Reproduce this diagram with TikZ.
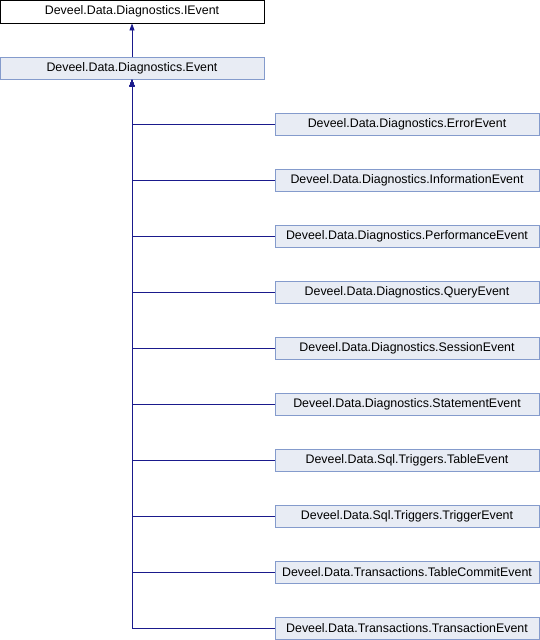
\documentclass[tikz,border=0pt]{standalone}
\usepackage{fontspec}
\setmainfont{Liberation Sans}
\usetikzlibrary{arrows.meta}
\definecolor{boxfill}{RGB}{232,236,244}
\definecolor{boxline}{RGB}{132,155,204}
\definecolor{arrcol}{RGB}{26,26,140}
\begin{document}
\begin{tikzpicture}[x=1pt,y=-1pt,
  cls/.style={draw=boxline,fill=boxfill,line width=0.9pt,minimum width=264pt,minimum height=22pt,inner sep=0pt,font=\fontsize{12.4}{14}\selectfont},
  topcls/.style={cls,draw=black,fill=white,minimum height=23pt},
  inh/.style={draw=arrcol,line width=0.9pt,-{Triangle[length=7pt,width=5pt]}}]
\useasboundingbox (0,0) rectangle (540,640);
\node[topcls] (ie) at (132,11.5) {Deveel.Data.Diagnostics.IEvent};
\node[cls] (ev) at (132,68) {Deveel.Data.Diagnostics.Event};
\draw[inh] (ev.north) -- (ie.south);
\foreach \n/\t [count=\k from 0] in {c0/Deveel.Data.Diagnostics.ErrorEvent,
  c1/Deveel.Data.Diagnostics.InformationEvent,
  c2/Deveel.Data.Diagnostics.PerformanceEvent,
  c3/Deveel.Data.Diagnostics.QueryEvent,
  c4/Deveel.Data.Diagnostics.SessionEvent,
  c5/Deveel.Data.Diagnostics.StatementEvent,
  c6/Deveel.Data.Sql.Triggers.TableEvent,
  c7/Deveel.Data.Sql.Triggers.TriggerEvent,
  c8/Deveel.Data.Transactions.TableCommitEvent,
  c9/Deveel.Data.Transactions.TransactionEvent}{
  \node[cls] (\n) at (407,124+56*\k) {\t};
  \draw[inh] (\n.west) -| (ev.south);
}
\end{tikzpicture}
\end{document}
